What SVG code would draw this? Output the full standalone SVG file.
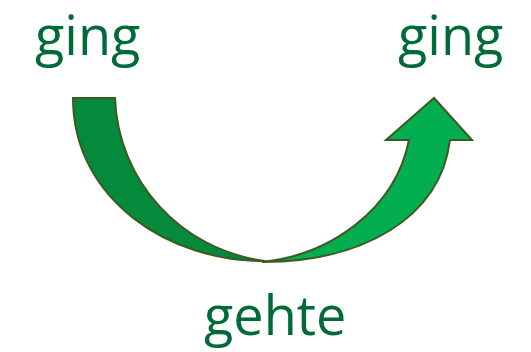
<svg xmlns="http://www.w3.org/2000/svg" width="531" height="352" viewBox="0 0 531 352">
<style>
.lbl{font-family:"Open Sans","Liberation Sans",sans-serif;font-size:54px;fill:#006a38}
.arr{stroke:#3c5a22;stroke-width:2;stroke-linejoin:miter}
</style>
<rect width="531" height="352" fill="#ffffff"/>
<g id="connectors">
<path class="arr" fill="#058a3c" d="M73,98 L115,98 C118,180 180,250 265,261 C170,262 73,200 73,98 Z"/>
<path class="arr" fill="#03ae50" d="M262,262 C330,255 395,210 409,140 L386,140 L434,98 L472,140 L450,140 C440,220 360,262 262,262 Z"/>
</g>
<g id="node-ging-left"><text class="lbl" x="35" y="55">ging</text></g>
<g id="node-ging-right"><text class="lbl" x="398" y="55">ging</text></g>
<g id="node-gehte"><text class="lbl" x="204" y="335">gehte</text></g>
</svg>
